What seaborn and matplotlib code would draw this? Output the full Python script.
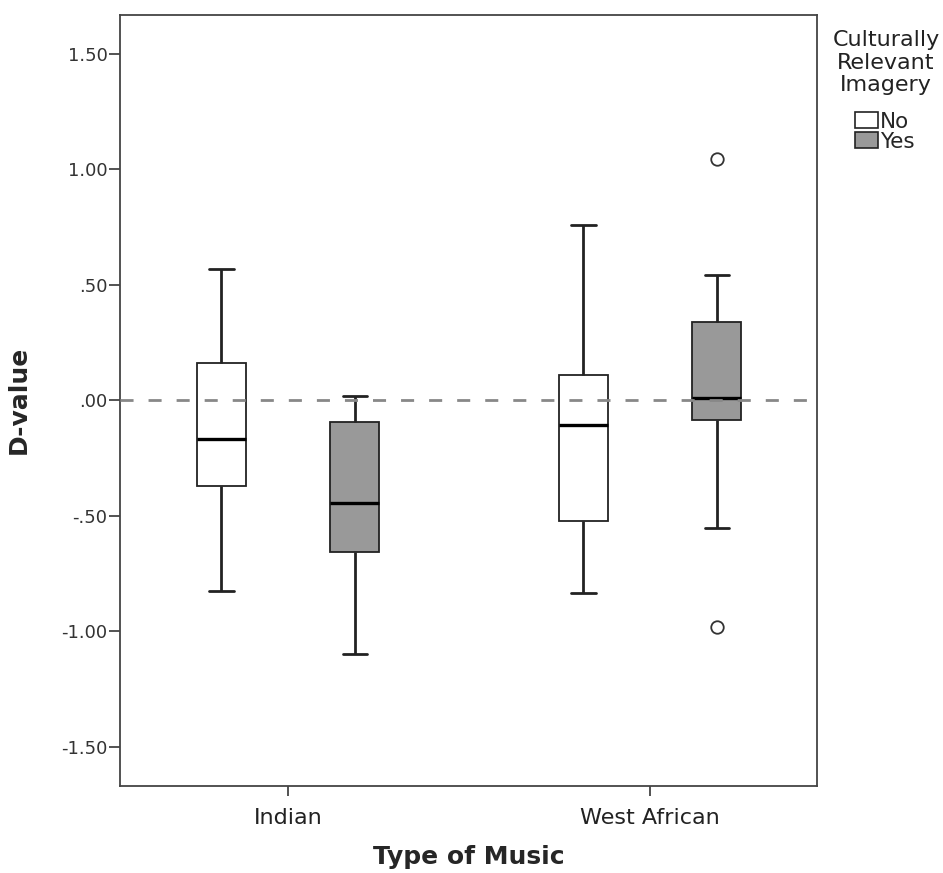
import numpy as np
import pandas as pd
import matplotlib
matplotlib.use("Agg")
import matplotlib.pyplot as plt
import seaborn as sns

# five-number summaries (whisker ends, quartiles, median)
music = ['Indian', 'Indian', 'West African', 'West African']
imagery = ['No', 'Yes', 'No', 'Yes']
whisker_low = [-0.825, -1.097, -0.834, -0.554]
q1 = [-0.371, -0.656, -0.524, -0.087]
median = [-0.169, -0.444, -0.107, 0.010]
q3 = [0.163, -0.094, 0.108, 0.339]
whisker_high = [0.571, 0.019, 0.758, 0.545]

# outliers
outlier_music = ['West African', 'West African']
outlier_imagery = ['Yes', 'Yes']
outlier_value = [1.045, -0.981]

music_order = ['Indian', 'West African']
hue_order = ['No', 'Yes']
y_ticks = [-1.5, -1.0, -0.5, 0.0, 0.5, 1.0, 1.5]
y_tick_labels = ['-1.50', '-1.00', '-.50', '.00', '.50', '1.00', '1.50']

rows = []
for i in range(len(music)):
    for v in [whisker_low[i], q1[i], median[i], q3[i], whisker_high[i]]:
        rows.append({'music': music[i], 'imagery': imagery[i], 'D': v})
df = pd.DataFrame(rows)

sns.set_style('white')
plt.rcParams['font.family'] = ['DejaVu Sans']

fig, ax = plt.subplots(figsize=(9.43, 8.73), dpi=100)
fig.subplots_adjust(left=0.1273, right=0.8664, top=0.9828, bottom=0.100)

pal = {'No': 'white', 'Yes': '#999999'}
sns.boxplot(data=df, x='music', y='D', hue='imagery', order=music_order,
            hue_order=hue_order, palette=pal, saturation=1, dodge=True,
            width=0.737, gap=0.633, whis=(0, 100), fliersize=0,
            linecolor='#222222', linewidth=1.3,
            whiskerprops={'linewidth': 2.0}, capprops={'linewidth': 2.0},
            medianprops={'linewidth': 2.4, 'color': 'black'}, ax=ax)

for m, g, v in zip(outlier_music, outlier_imagery, outlier_value):
    sns.pointplot(x=[m], y=[v], hue=[g], order=music_order, hue_order=hue_order,
                  palette={'No': '#333333', 'Yes': '#333333'}, dodge=0.368,
                  linestyles='none', markers='o', errorbar=None, legend=False,
                  markersize=9, markeredgewidth=1.3, markerfacecolor='white', ax=ax)

ax.axhline(0, color='#888888', linewidth=2.0, linestyle=(0, (4.7, 5.4)), zorder=5)

ax.set_xlim(-0.464, 1.461)
ax.set_ylim(-1.669, 1.669)
ax.set_yticks(y_ticks)
ax.set_yticklabels(y_tick_labels)

for s in ax.spines.values():
    s.set_visible(True)
    s.set_color('#444444')
    s.set_linewidth(1.3)
ax.tick_params(axis='y', direction='out', length=8, width=1.3, color='#444444',
               labelsize=13, labelcolor='#333333', pad=1, left=True)
ax.tick_params(axis='x', direction='out', length=7, width=1.3, color='#444444',
               labelsize=16, labelcolor='#222222', pad=9, bottom=True)

ax.set_xlabel('Type of Music', fontsize=18, fontweight='bold', labelpad=12)
ax.set_ylabel('D-value', fontsize=18, fontweight='bold', labelpad=22)

# legend: title as separate text, entries packed tight like SPSS
sns.move_legend(ax, loc='upper left', bbox_to_anchor=(1.0545, 0.8748),
                title=None, frameon=False, fontsize=15.5, handlelength=1.05,
                handleheight=0.82, handletextpad=0.12, labelspacing=0.0,
                borderpad=0, borderaxespad=0)
leg = ax.get_legend()
for h in leg.legend_handles:
    h.set_edgecolor('#222222')
    h.set_linewidth(1.2)
ax.text(1.099, 0.981, 'Culturally\nRelevant\nImagery', transform=ax.transAxes,
        ha='center', va='top', multialignment='center', fontsize=16,
        linespacing=1.18, color='#222222')

fig.savefig('out.png', dpi=100)
